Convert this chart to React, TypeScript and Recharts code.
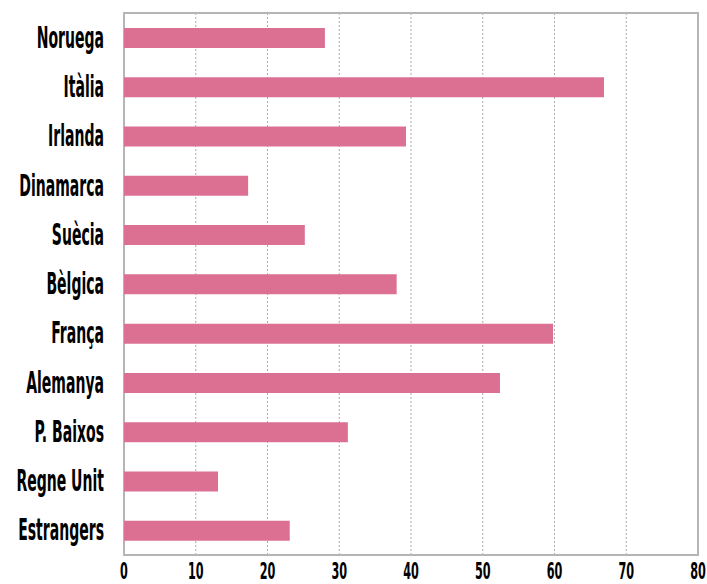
import React from 'react';
import { BarChart, Bar, XAxis, YAxis, CartesianGrid, ReferenceArea } from 'recharts';

const countries = [
  'Noruega',
  'Itàlia',
  'Irlanda',
  'Dinamarca',
  'Suècia',
  'Bèlgica',
  'França',
  'Alemanya',
  'P. Baixos',
  'Regne Unit',
  'Estrangers',
];
const values = [28.0, 66.9, 39.3, 17.3, 25.2, 38.0, 59.8, 52.4, 31.2, 13.1, 23.1];
const xTicks = [0, 10, 20, 30, 40, 50, 60, 70, 80];

const data = countries.map((name, i) => ({ name, value: values[i] }));

const FONT = '"DejaVu Sans Condensed", "DejaVu Sans", sans-serif';

// tall condensed look: squeeze horizontally, stretch vertically
const YTick = (props: any) => {
  const { x, y, payload } = props;
  return (
    <g transform={`translate(${x},${y}) scale(0.78,1.5)`}>
      <text x={0} y={0} dy={6.7} textAnchor="end" fontFamily={FONT} fontWeight="bold" fontSize={20} fill="#000">
        {payload.value}
      </text>
    </g>
  );
};

const XTick = (props: any) => {
  const { x, y, payload } = props;
  return (
    <g transform={`translate(${x},${y}) scale(0.78,1.4)`}>
      <text x={0} y={0} textAnchor="middle" fontFamily={FONT} fontWeight="bold" fontSize={16} fill="#000">
        {payload.value}
      </text>
    </g>
  );
};

const App: React.FC = () => {
  return (
    <div style={{ position: 'absolute', left: 0, top: 0, background: '#fff' }}>
      <BarChart
        width={707}
        height={584}
        data={data}
        layout="vertical"
        margin={{ top: 13, right: 9, bottom: 0, left: 0 }}
      >
        <CartesianGrid horizontal={false} stroke="#aaaaaa" strokeDasharray="2 2" />
        <XAxis
          type="number"
          domain={[0, 80]}
          ticks={xTicks}
          height={29}
          axisLine={false}
          tickLine={false}
          tickSize={0}
          tickMargin={24}
          tick={<XTick />}
          interval={0}
        />
        <YAxis
          type="category"
          dataKey="name"
          width={124}
          axisLine={false}
          tickLine={false}
          tickSize={0}
          tickMargin={20}
          tick={<YTick />}
          interval={0}
        />
        <Bar dataKey="value" fill="#db7093" barSize={20} isAnimationActive={false} />
        <ReferenceArea x1={0} x2={80} fill="none" stroke="#b5b5b5" strokeWidth={2} />
      </BarChart>
    </div>
  );
};

export default App;
